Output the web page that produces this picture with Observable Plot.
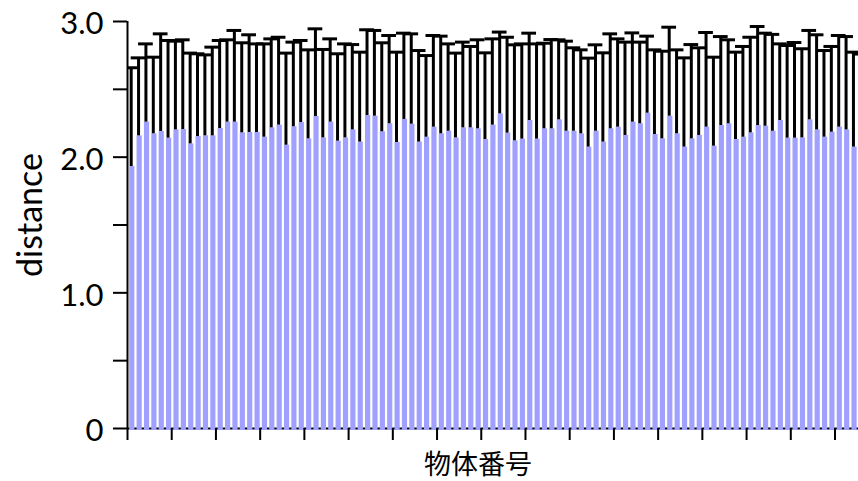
<!DOCTYPE html>
<html><head><meta charset="utf-8">
<script src="https://cdn.jsdelivr.net/npm/d3@7"></script>
<script src="https://cdn.jsdelivr.net/npm/@observablehq/plot@0.6"></script>
<style>
html,body{margin:0;padding:0;background:#fff;overflow:hidden;}
#chart{width:858px;height:481px;overflow:hidden;}
</style>
</head><body><div id="chart"></div>
<script>
// mean distance for each object (物体番号 1..100)
const means = [
  1.931, 2.157, 2.258, 2.172, 2.189, 2.140, 2.201, 2.204, 2.098, 2.152,
  2.157, 2.157, 2.211, 2.258, 2.258, 2.179, 2.182, 2.182, 2.147, 2.216,
  2.236, 2.088, 2.224, 2.255, 2.135, 2.300, 2.142, 2.258, 2.118, 2.142,
  2.201, 2.111, 2.307, 2.302, 2.187, 2.246, 2.108, 2.278, 2.243, 2.111,
  2.147, 2.221, 2.172, 2.191, 2.142, 2.216, 2.216, 2.209, 2.130, 2.236,
  2.319, 2.177, 2.120, 2.133, 2.270, 2.133, 2.209, 2.209, 2.275, 2.191,
  2.191, 2.172, 2.074, 2.191, 2.111, 2.209, 2.221, 2.160, 2.258, 2.246,
  2.324, 2.167, 2.135, 2.302, 2.172, 2.074, 2.135, 2.160, 2.221, 2.081,
  2.233, 2.246, 2.130, 2.147, 2.179, 2.233, 2.228, 2.191, 2.270, 2.140,
  2.140, 2.142, 2.275, 2.201, 2.147, 2.184, 2.221, 2.201, 2.074, 2.197
];
// top of the error bar (mean + error) for each object
const upper = [
  2.659, 2.732, 2.835, 2.737, 2.909, 2.860, 2.855, 2.865, 2.767, 2.762,
  2.754, 2.811, 2.860, 2.865, 2.934, 2.843, 2.902, 2.835, 2.835, 2.872,
  2.884, 2.767, 2.848, 2.860, 2.791, 2.946, 2.794, 2.872, 2.762, 2.835,
  2.830, 2.774, 2.939, 2.934, 2.843, 2.897, 2.774, 2.914, 2.909, 2.786,
  2.749, 2.897, 2.892, 2.835, 2.767, 2.848, 2.816, 2.865, 2.769, 2.872,
  2.922, 2.884, 2.828, 2.835, 2.914, 2.835, 2.840, 2.867, 2.865, 2.855,
  2.806, 2.791, 2.730, 2.828, 2.769, 2.909, 2.872, 2.848, 2.916, 2.848,
  2.892, 2.791, 2.781, 2.958, 2.791, 2.732, 2.830, 2.806, 2.919, 2.737,
  2.889, 2.865, 2.774, 2.816, 2.884, 2.963, 2.914, 2.905, 2.835, 2.823,
  2.845, 2.799, 2.934, 2.902, 2.786, 2.816, 2.897, 2.889, 2.774, 2.760
];
const xTicks = [0, 6, 12, 18, 24, 30, 36, 42, 48, 54, 60, 66, 72, 78, 84, 90, 96];
const yTicks = [0, 0.5, 1, 1.5, 2, 2.5, 3];
const yLabel = "distance";
const xLabel = "物体番号";

const data = means.map((m, i) => ({i, mean: m, upper: upper[i]}));
const yFormat = d => d === 0 ? "0" : (d % 1 === 0 ? d.toFixed(1) : "");

const chart = Plot.plot({
  width: 864,
  height: 481,
  marginLeft: 127,
  marginRight: 0,
  marginTop: 21,
  marginBottom: 53,
  style: {fontFamily: "Lato, 'Noto Sans CJK JP', sans-serif", fontSize: "31px", maxWidth: "none", background: "white", color: "black", overflow: "visible"},
  x: {domain: [0, means.length]},
  y: {domain: [0, 3]},
  marks: [
    Plot.ruleY([0], {stroke: "black", strokeWidth: 2}),
    Plot.rectY(data, {x1: d => d.i, x2: d => d.i + 1, y1: 0, y2: "mean", fill: "#a0a0ff", insetLeft: 2.2, insetRight: 0, insetBottom: -2}),
    Plot.ruleX(data, {x: d => d.i + 0.5, y1: "mean", y2: "upper", stroke: "black", strokeWidth: 3}),
    Plot.ruleY(data, {y: "upper", x1: d => d.i - 0.5, x2: d => d.i + 1.5, stroke: "black", strokeWidth: 3, clip: true}),
    Plot.ruleX([0], {stroke: "black", strokeWidth: 2}),
    Plot.axisY({ticks: yTicks, tickSize: 14, strokeWidth: 2, label: null, tickFormat: () => ""}),
    Plot.axisY({ticks: yTicks, tickSize: 0, tickPadding: 24, label: null, fontSize: 31, dy: 3, tickFormat: yFormat}),
    Plot.axisX({ticks: xTicks, tickSize: 12, strokeWidth: 2, label: null, tickFormat: () => ""}),
    Plot.text([yLabel], {frameAnchor: "left", textAnchor: "middle", rotate: -90, dx: -96, dy: -10, fontSize: 34}),
    Plot.text([xLabel], {frameAnchor: "bottom", textAnchor: "middle", dy: 45, dx: -18, fontSize: 27, fontFamily: "'Noto Sans CJK JP'"})
  ]
});
document.getElementById("chart").append(chart);
</script>
</body></html>
